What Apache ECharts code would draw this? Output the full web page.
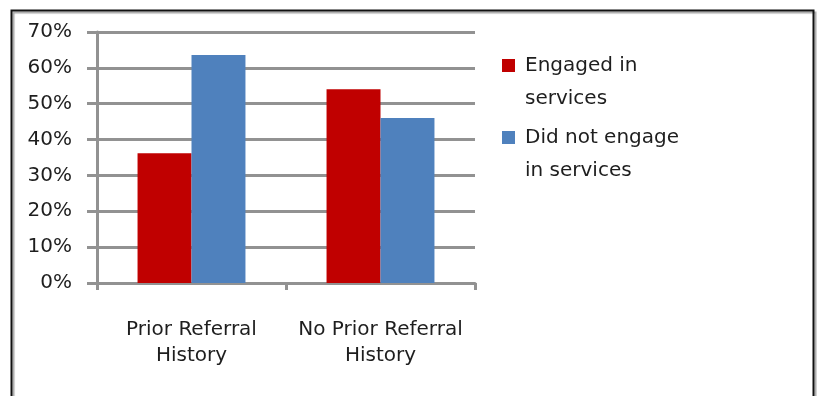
<!DOCTYPE html>
<html>
<head>
<meta charset="utf-8">
<style>
  html, body { margin: 0; padding: 0; background: #fff; }
  #chart { width: 817px; height: 396px; }
</style>
<script src="https://cdn.jsdelivr.net/npm/echarts@6/dist/echarts.min.js"></script>
</head>
<body>
<div id="chart"></div>
<script>
// Referral history groups on the x axis
const categories = ['Prior Referral\nHistory', 'No Prior Referral\nHistory'];
// Share of each group (percent)
const engaged = [36.2, 54.0];
const notEngaged = [63.6, 46.0];
const seriesNames = ['Engaged in\nservices', 'Did not engage\nin services'];
// Value axis range and step (percent)
const yMin = 0, yMax = 70, yStep = 10;

const FONT = 'DejaVu Sans';
const TEXT = '#1e1e1e';
const GRID = '#929292';
const LEGEND_LINE = 33;
const ICON_BOX = 18;

// Square marker sitting beside the first line of a two-line legend label;
// the bare move-to points stretch the icon box to the full label height
// and leave a little room between the square and its text.
const legendIcon = 'path://M0,0 M0,10 h13 v13 h-13 z M' + ICON_BOX + ',' + (2 * LEGEND_LINE);

const chart = echarts.init(document.getElementById('chart'), null, { renderer: 'canvas' });

chart.setOption({
  animation: false,
  backgroundColor: '#fff',
  textStyle: { fontFamily: FONT },
  graphic: [{
    type: 'rect',
    left: 9, top: 8,
    shape: { x: 0, y: 0, width: 802, height: 420 },
    style: { fill: 'none', stroke: '#111', lineWidth: 2, shadowColor: 'rgba(0,0,0,0.35)', shadowOffsetX: 2, shadowOffsetY: 2, shadowBlur: 1 },
    silent: true, z: 0
  }],
  grid: { left: 97, right: 342, top: 32, bottom: 113, containLabel: false },
  legend: {
    orient: 'vertical',
    left: 497, top: 44,
    itemWidth: ICON_BOX, itemHeight: 2 * LEGEND_LINE,
    itemGap: 6,
    icon: legendIcon,
    selectedMode: false,
    data: seriesNames,
    textStyle: {
      fontFamily: FONT, fontSize: 20, color: TEXT,
      lineHeight: LEGEND_LINE
    }
  },
  xAxis: {
    type: 'category',
    data: categories,
    axisLine: { show: true, lineStyle: { color: GRID, width: 3 } },
    axisTick: { show: true, length: 7, lineStyle: { color: GRID, width: 3 } },
    axisLabel: { fontFamily: FONT, fontSize: 20, color: TEXT, lineHeight: 26, margin: 34, interval: 0 }
  },
  yAxis: {
    type: 'value',
    min: yMin, max: yMax, interval: yStep,
    axisLine: { show: true, lineStyle: { color: GRID, width: 3 } },
    axisTick: { show: true, length: 10, lineStyle: { color: GRID, width: 3 } },
    splitLine: { show: true, lineStyle: { color: GRID, width: 3 } },
    axisLabel: { fontFamily: FONT, fontSize: 20, color: TEXT, margin: 25, padding: [3, 0, 0, 0], formatter: v => v + '%' }
  },
  series: [
    {
      name: seriesNames[0], type: 'bar', data: engaged,
      barGap: '0%', barCategoryGap: '42.9%',
      itemStyle: { color: '#C00000' }
    },
    {
      name: seriesNames[1], type: 'bar', data: notEngaged,
      barGap: '0%', barCategoryGap: '42.9%',
      itemStyle: { color: '#4F81BD' }
    }
  ]
});
</script>
</body>
</html>
